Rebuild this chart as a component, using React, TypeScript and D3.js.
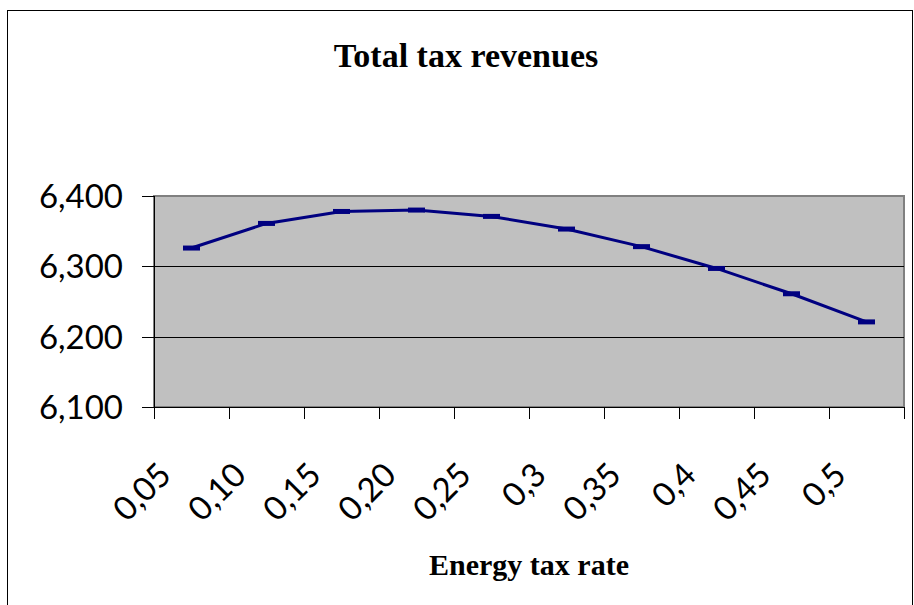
import React, { useEffect, useRef } from 'react';
import * as d3 from 'd3';

const rates = ['0,05', '0,10', '0,15', '0,20', '0,25', '0,3', '0,35', '0,4', '0,45', '0,5'];
const revenues = [6326, 6361, 6378, 6380, 6371, 6353, 6328, 6297, 6261, 6221];
const yTicks = [6100, 6200, 6300, 6400];

const width = 914;
const height = 605;
const plot = { left: 154, right: 904, top: 196, bottom: 407 };

export default function App() {
  const ref = useRef<SVGSVGElement>(null);

  useEffect(() => {
    const svg = d3.select(ref.current);
    svg.selectAll('*').remove();

    const x = d3.scaleBand<string>().domain(rates).range([plot.left, plot.right]).padding(0);
    const y = d3.scaleLinear().domain([6100, 6400]).range([plot.bottom, plot.top]);
    const fmt = (v: number) => d3.format(',')(v);

    // chart border
    svg.append('rect')
      .attr('x', 7.5).attr('y', 10.5)
      .attr('width', 905).attr('height', 620)
      .attr('fill', '#fff').attr('stroke', '#000').attr('stroke-width', 1);

    svg.append('text')
      .attr('x', 466).attr('y', 67)
      .attr('text-anchor', 'middle')
      .style('font-family', '"Liberation Serif", "Times New Roman", serif')
      .style('font-weight', 'bold')
      .style('font-size', '34px')
      .text('Total tax revenues');

    // plot area
    svg.append('rect')
      .attr('x', plot.left).attr('y', plot.top)
      .attr('width', plot.right - plot.left).attr('height', plot.bottom - plot.top)
      .attr('fill', '#c0c0c0').attr('stroke', '#808080').attr('stroke-width', 2);

    // gridlines
    svg.append('g').selectAll('line')
      .data(yTicks.filter(d => d > 6100 && d < 6400))
      .enter().append('line')
      .attr('x1', plot.left).attr('x2', plot.right)
      .attr('y1', d => Math.round(y(d)) + 0.5).attr('y2', d => Math.round(y(d)) + 0.5)
      .attr('stroke', '#000').attr('stroke-width', 1);

    // y axis
    const ya = svg.append('g');
    ya.append('line')
      .attr('x1', plot.left + 0.5).attr('x2', plot.left + 0.5)
      .attr('y1', plot.top).attr('y2', plot.bottom)
      .attr('stroke', '#000');
    ya.selectAll('.tick')
      .data(yTicks)
      .enter().append('line')
      .attr('x1', plot.left - 12).attr('x2', plot.left)
      .attr('y1', d => Math.round(y(d)) + 0.5).attr('y2', d => Math.round(y(d)) + 0.5)
      .attr('stroke', '#000');
    ya.selectAll('text')
      .data(yTicks)
      .enter().append('text')
      .attr('x', 123).attr('y', d => y(d) + 12)
      .attr('text-anchor', 'end')
      .style('font-family', 'Lato, "DejaVu Sans", sans-serif')
      .style('font-size', '33px')
      .text(d => fmt(d));

    // x axis
    const xa = svg.append('g');
    xa.append('line')
      .attr('x1', plot.left).attr('x2', plot.right)
      .attr('y1', plot.bottom + 0.5).attr('y2', plot.bottom + 0.5)
      .attr('stroke', '#000');
    const bounds = rates.map(d => x(d) as number).concat([plot.right]);
    xa.selectAll('.tick')
      .data(bounds)
      .enter().append('line')
      .attr('x1', d => Math.round(d) + 0.5).attr('x2', d => Math.round(d) + 0.5)
      .attr('y1', plot.bottom).attr('y2', plot.bottom + 12)
      .attr('stroke', '#000');
    xa.selectAll('text')
      .data(rates)
      .enter().append('text')
      .attr('transform', d => {
        const cx = (x(d) as number) + x.bandwidth() / 2 - 18.5;
        return `translate(${cx},477) rotate(-45)`;
      })
      .attr('text-anchor', 'end')
      .style('font-family', 'Lato, "DejaVu Sans", sans-serif')
      .style('font-size', '33px')
      .text(d => d);

    svg.append('text')
      .attr('x', (plot.left + plot.right) / 2).attr('y', 575)
      .attr('text-anchor', 'middle')
      .style('font-family', '"Liberation Serif", "Times New Roman", serif')
      .style('font-weight', 'bold')
      .style('font-size', '30px')
      .text('Energy tax rate');

    // series
    const cx = (d: string) => (x(d) as number) + x.bandwidth() / 2;
    const line = d3.line<number>()
      .x((_, i) => cx(rates[i]))
      .y(d => y(d));
    svg.append('path')
      .datum(revenues)
      .attr('d', line)
      .attr('fill', 'none')
      .attr('stroke', '#000080')
      .attr('stroke-width', 3);
    svg.append('g').selectAll('rect')
      .data(revenues)
      .enter().append('rect')
      .attr('x', (_, i) => cx(rates[i]) - 8.5)
      .attr('y', d => y(d) - 2.5)
      .attr('width', 17).attr('height', 5)
      .attr('fill', '#000080');
  }, []);

  return (
    <svg ref={ref} width={width} height={height}
      style={{ position: 'absolute', left: 0, top: 0, display: 'block' }} />
  );
}
